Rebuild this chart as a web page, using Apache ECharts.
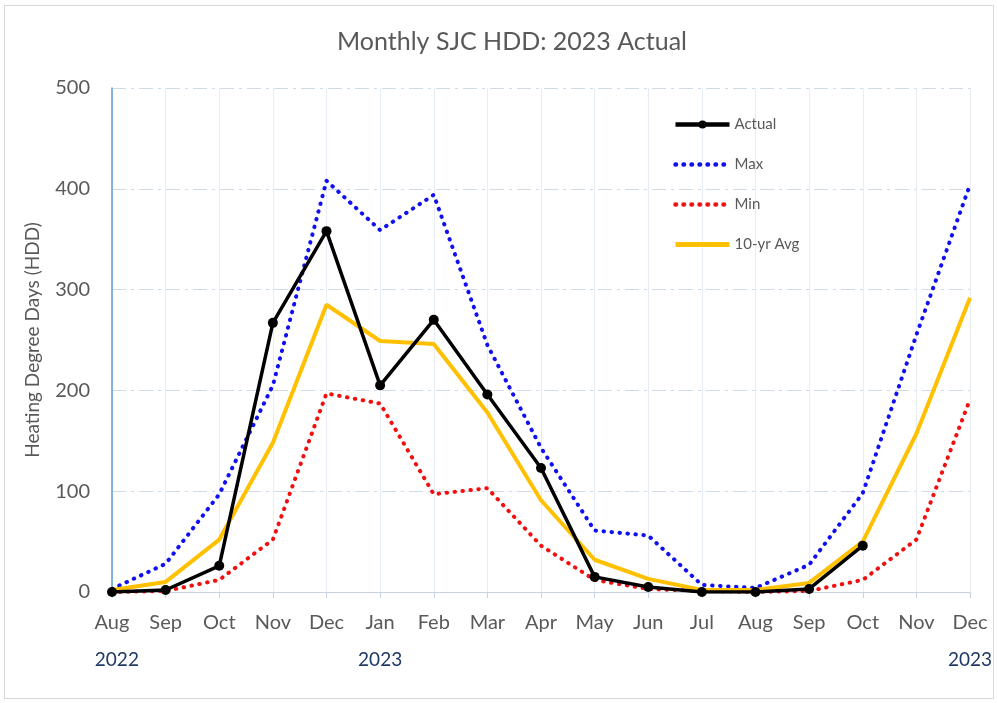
<!DOCTYPE html>
<html><head><meta charset="utf-8">
<script src="https://cdn.jsdelivr.net/npm/echarts@6/dist/echarts.min.js"></script>
<style>
html,body{margin:0;padding:0;background:#fff;}
#frame{position:absolute;left:4px;top:5px;width:990px;height:694px;border:1px solid #d9d9d9;box-sizing:border-box;}
#chart{position:absolute;left:0;top:0;width:997px;height:703px;}
</style></head>
<body>
<div id="frame"></div>
<div id="chart"></div>
<script>
const months = ['Aug','Sep','Oct','Nov','Dec','Jan','Feb','Mar','Apr','May','Jun','Jul','Aug','Sep','Oct','Nov','Dec'];
const yearLabels = ['2022','','','','','2023','','','','','','','','','','','2023'];
const actual = [0, 2, 26, 267, 358, 205, 270, 196, 123, 15, 5, 0, 0, 3, 46, null, null];
const maxHDD = [3, 28, 97, 205, 408, 359, 394, 245, 143, 61, 56, 7, 4, 27, 98, 255, 404];
const minHDD = [0, 1, 12, 52, 197, 187, 97, 103, 46, 12, 3, 1, 0, 1, 12, 52, 191];
const avgHDD = [2, 10, 52, 148, 285, 249, 246, 178, 91, 32, 13, 2, 2, 9, 50, 157, 292];
const yTicks = {min: 0, max: 500, interval: 100};

const chart = echarts.init(document.getElementById('chart'));
const font = 'Lato, "Open Sans", sans-serif';
const dotStyle = (c) => ({color: c, width: 4, type: [0.5, 7.5], cap: 'round'});
chart.setOption({
  animation: false,
  textStyle: {fontFamily: font},
  title: {text: 'Monthly SJC HDD: 2023 Actual', left: 507, top: 24, textAlign: 'center',
    textStyle: {fontSize: 25, fontWeight: 'normal', color: '#595959', fontFamily: font}},
  grid: {left: 112, right: 27, top: 88, bottom: 111},
  legend: {orient: 'vertical', left: 668, top: 112, itemGap: 25, itemWidth: 54, itemHeight: 10,
    textStyle: {fontSize: 15, color: '#595959', fontFamily: font},
    data: [{name: 'Actual', lineStyle: {width: 4.5}},
           {name: 'Max', itemStyle: {opacity: 0}, lineStyle: {width: 4.5}},
           {name: 'Min', itemStyle: {opacity: 0}, lineStyle: {width: 4.5}},
           {name: '10-yr Avg', itemStyle: {opacity: 0}, lineStyle: {width: 5}}]},
  xAxis: [{
    type: 'category', data: months, boundaryGap: false,
    axisLine: {lineStyle: {color: '#c5d3e3', width: 1}},
    axisTick: {show: true, length: 6, lineStyle: {color: '#c5d3e3'}},
    axisLabel: {color: '#595959', fontSize: 20, margin: 21, interval: 0, fontFamily: font},
    splitLine: {show: true, lineStyle: {color: '#e6edf5', width: 1}}
  },{
    type: 'category', data: yearLabels, boundaryGap: false, position: 'bottom', offset: 50,
    axisLine: {show: false}, axisTick: {show: false},
    axisLabel: {color: '#1f3864', fontSize: 19, interval: 0, fontFamily: font,
      formatter: (v, i) => i === 0 ? '  ' + v : v}
  }],
  yAxis: {
    type: 'value', min: yTicks.min, max: yTicks.max, interval: yTicks.interval,
    name: 'Heating Degree Days (HDD)', nameLocation: 'middle', nameGap: 70,
    nameTextStyle: {fontSize: 19, color: '#595959', fontFamily: font},
    axisLine: {show: true, lineStyle: {color: '#5b9bd5', width: 1.5}},
    axisTick: {show: false},
    axisLabel: {color: '#595959', fontSize: 20, margin: 22, fontFamily: font},
    splitLine: {show: true, lineStyle: {color: '#cfdbe8', width: 1.2, type: [14, 5, 3, 5]}}
  },
  series: [
    {name: 'Actual', type: 'line', data: actual, symbol: 'circle', symbolSize: 10,
      itemStyle: {color: '#000'}, lineStyle: {color: '#000', width: 3.5}, z: 5},
    {name: 'Max', type: 'line', data: maxHDD, symbol: 'none', itemStyle: {color: '#1010f0'},
      lineStyle: dotStyle('#1010f0'), z: 3},
    {name: 'Min', type: 'line', data: minHDD, symbol: 'none', itemStyle: {color: '#f01010'},
      lineStyle: dotStyle('#f01010'), z: 3},
    {name: '10-yr Avg', type: 'line', data: avgHDD, symbol: 'none', itemStyle: {color: '#ffc000'},
      lineStyle: {color: '#ffc000', width: 4}, z: 4}
  ]
});
</script>
</body></html>
